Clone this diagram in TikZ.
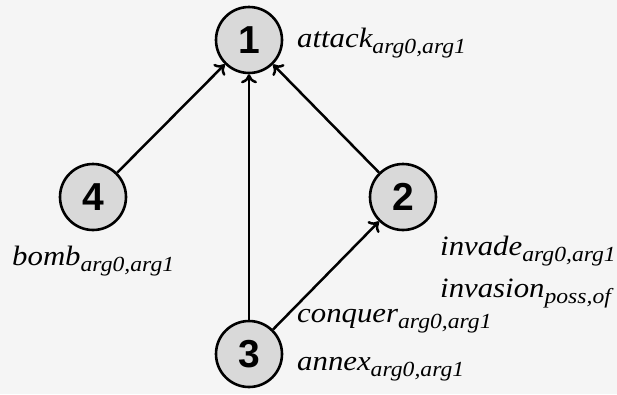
\documentclass[tikz,border=0pt]{standalone}
\usepackage{fontspec}
\setmainfont{Liberation Serif}[FakeStretch=1.1]
\setsansfont{Liberation Sans}
\usetikzlibrary{arrows.meta}
\tikzset{
    event/.style={circle,draw,line width=2.6pt,fill=black!15,minimum size=66pt,inner sep=0pt,
        font=\sffamily\bfseries\fontsize{39pt}{39pt}\selectfont},
    word/.style={anchor=base west,inner sep=0pt,font=\itshape\fontsize{28pt}{28pt}\selectfont},
    link/.style={line width=2.5pt,-{To[length=9pt,width=16pt]}}
}
% predicate with its argument labels set low and small
\newcommand{\pred}[2]{#1\raisebox{-6pt}{\fontsize{21.5pt}{21.5pt}\selectfont #2}}

\begin{document}
\begin{tikzpicture}[x=1pt,y=-1pt]
    \fill[black!4] (0,0) rectangle (617,394);
    \useasboundingbox (0,0) rectangle (617,394);

    \node[event] (v1) at (249,40) {1};
    \node[event] (v2) at (403,197) {2};
    \node[event] (v3) at (249,354) {3};
    \node[event] (v4) at (93,197) {4};

    \node[word] (w1) at (297,47) {\pred{attack}{arg0,arg1}};
    \node[word] (w4) at (12,265) {\pred{bomb}{arg0,arg1}};
    \node[word] (w2a) at (440,255) {\pred{invade}{arg0,arg1}};
    \node[word] (w2b) at (440,297) {\pred{invasion}{poss,of}};
    \node[word] (w3a) at (297,322) {\pred{conquer}{arg0,arg1}};
    \node[word] (w3b) at (297,370) {\pred{annex}{arg0,arg1}};

    \draw[link] (v4) -- (v1);
    \draw[link] (v3) -- (v1);
    \draw[link] (v2) -- (v1);
    \draw[link] (v3) -- (v2);
\end{tikzpicture}
\end{document}
